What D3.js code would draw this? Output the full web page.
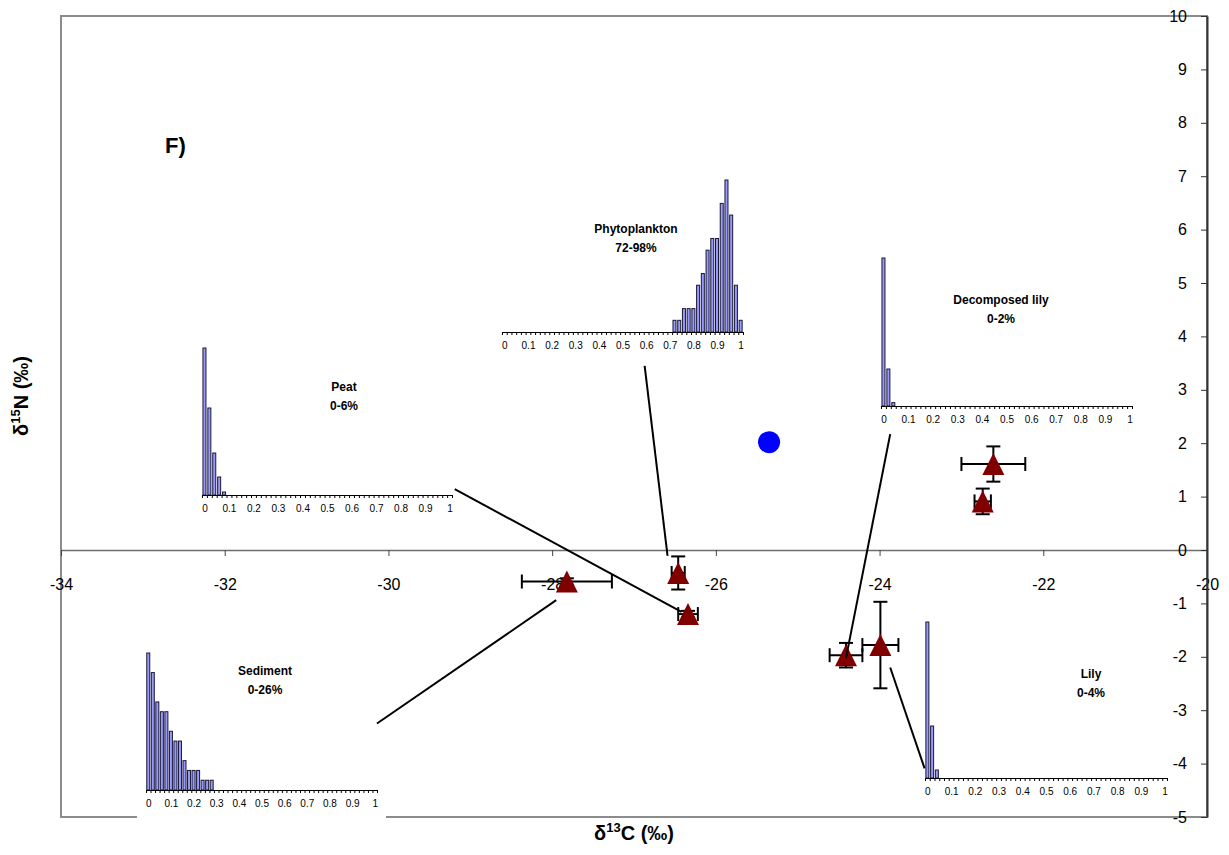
<!DOCTYPE html>
<html>
<head>
<meta charset="utf-8">
<script src="https://cdn.jsdelivr.net/npm/d3@7"></script>
<style>
	body { margin: 0; background: #fff; }
	text { font-family: Arial, "Liberation Sans", sans-serif; }
</style>
</head>
<body>
<div id="chart"></div>
<script>

// main axes
var x_ticks= [-34, -32, -30, -28, -26, -24, -22, -20];
var y_ticks= [-5, -4, -3, -2, -1, 0, 1, 2, 3, 4, 5, 6, 7, 8, 9, 10];

// consumers: mean d13C / d15N and error (per mil)
var sample_c= [-27.82, -26.46, -26.34, -24.41, -23.99, -22.61, -22.74];
var sample_n= [-0.59, -0.43, -1.20, -1.97, -1.78, 1.61, 0.91];
var sample_err_c= [0.55, 0.08, 0.12, 0.20, 0.22, 0.39, 0.10];
var sample_err_n= [0.06, 0.31, 0.06, 0.23, 0.81, 0.33, 0.24];

// mixture point
var mix_c= [-25.35];
var mix_n= [2.02];

// leader lines from the histograms to the samples (per mil units)
var link_c0= [-29.19, -26.87, -30.14, -23.87, -23.87];
var link_n0= [1.14, 3.45, -3.25, 2.17, -2.20];
var link_c1= [-26.42, -26.59, -27.95, -24.41, -23.45];
var link_n1= [-1.16, -0.11, -0.94, -2.02, -4.09];

// source contribution histograms
var bin_labels= ["0", "0.1", "0.2", "0.3", "0.4", "0.5", "0.6", "0.7", "0.8", "0.9", "1"];

var peat_bins= [0, 0.02, 0.04, 0.06, 0.08];
var peat_counts= [49, 29, 14, 6, 1];

var phyto_bins= [0.72, 0.74, 0.76, 0.78, 0.80, 0.82, 0.84, 0.86, 0.88, 0.90, 0.92, 0.94, 0.96, 0.98, 1.00];
var phyto_counts= [1, 1, 2, 2, 2, 4, 5, 7, 8, 8, 11, 13, 10, 4, 1];

var declily_bins= [0, 0.02, 0.04];
var declily_counts= [44, 11, 1];

var sediment_bins= [0, 0.02, 0.04, 0.06, 0.08, 0.10, 0.12, 0.14, 0.16, 0.18, 0.20, 0.22, 0.24, 0.26, 0.28];
var sediment_counts= [14, 12, 9, 8, 8, 6, 5, 5, 3, 2, 2, 2, 1, 1, 1];

var lily_bins= [0, 0.02, 0.04];
var lily_counts= [39, 13, 2];


var width= 1229, height= 855;

var svg= d3.select("#chart")
	.append("svg")
	.attr("width", width)
	.attr("height", height);

var x= d3.scaleLinear().domain([-34, -20]).range([61, 1207]);
var y= d3.scaleLinear().domain([-5, 10]).range([817, 16]);

// plot frame
svg.append("rect")
	.attr("x", x(-34))
	.attr("y", y(10))
	.attr("width", x(-20)- x(-34))
	.attr("height", y(-5)- y(10))
	.attr("fill", "none")
	.attr("stroke", "#8c8c8c")
	.attr("stroke-width", 2);


// insets (layout in pixels)
var insets= [
	{name: "Peat", range: "0-6%", bins: peat_bins, counts: peat_counts, x0: 202, x1: 452, base: 495, top: 348, lx: 344, ly: 391},
	{name: "Phytoplankton", range: "72-98%", bins: phyto_bins, counts: phyto_counts, x0: 502, x1: 743, base: 332, top: 180, lx: 636, ly: 233},
	{name: "Decomposed lily", range: "0-2%", bins: declily_bins, counts: declily_counts, x0: 881, x1: 1132, base: 406, top: 258, lx: 1001, ly: 304},
	{name: "Sediment", range: "0-26%", bins: sediment_bins, counts: sediment_counts, x0: 146, x1: 377, base: 790, top: 653, lx: 265, ly: 675},
	{name: "Lily", range: "0-4%", bins: lily_bins, counts: lily_counts, x0: 925, x1: 1167, base: 778, top: 622, lx: 1091, ly: 678}
];

var bin_edges= d3.range(52).map(function(i) { return -0.01+ i* 0.02; });

function draw_inset(d) {

	var g= svg.append("g");

	g.append("rect")
		.attr("x", d.x0- 9)
		.attr("y", d.top- 12)
		.attr("width", d.x1- d.x0+ 18)
		.attr("height", d.base- d.top+ 41)
		.attr("fill", "#fff");

	var hx= d3.scaleLinear().domain([-0.01, 1.01]).range([d.x0, d.x1]);
	var hy= d3.scaleLinear().domain([0, d3.max(d.counts)]).range([d.base, d.top]);

	g.selectAll(".bar")
		.data(d.counts)
		.enter().append("rect")
			.attr("class", "bar")
			.attr("x", function(c, i) { return hx(d.bins[i])- 1.5; })
			.attr("y", function(c) { return hy(c); })
			.attr("width", 3)
			.attr("height", function(c) { return d.base- hy(c); })
			.attr("fill", "#9999ff")
			.attr("stroke", "#1a1a33")
			.attr("stroke-width", 1);

	var ticks= g.append("g")
		.attr("transform", "translate(0," + d.base + ")")
		.call(d3.axisBottom(hx).tickValues(bin_edges).tickSize(3).tickSizeOuter(0).tickFormat(""));
	ticks.selectAll("line").attr("stroke", "#000");
	ticks.select(".domain").attr("stroke", "#000");

	var labels= g.append("g")
		.attr("transform", "translate(0," + d.base + ")")
		.call(d3.axisBottom(hx).tickValues(bin_labels.map(Number)).tickSize(0).tickPadding(10)
			.tickFormat(function(v, i) { return bin_labels[i]; }));
	labels.select(".domain").remove();
	labels.selectAll("text")
		.attr("font-size", 10)
		.attr("font-family", "Arial, 'Liberation Sans', sans-serif")
		.attr("fill", "#000");

	g.append("text")
		.attr("x", d.lx)
		.attr("y", d.ly)
		.attr("text-anchor", "middle")
		.attr("font-size", 12)
		.attr("font-weight", "bold")
		.text(d.name);

	g.append("text")
		.attr("x", d.lx)
		.attr("y", d.ly+ 19)
		.attr("text-anchor", "middle")
		.attr("font-size", 12)
		.attr("font-weight", "bold")
		.text(d.range);
}

insets.forEach(draw_inset);


// axes
var x_axis= svg.append("g")
	.attr("transform", "translate(0," + y(0) + ")")
	.call(d3.axisBottom(x).tickValues(x_ticks).tickSize(6).tickSizeOuter(0).tickPadding(23)
		.tickFormat(function(v) { return String(v); }));
x_axis.select(".domain").attr("stroke", "#6e6e6e").attr("stroke-width", 1.5);
x_axis.selectAll("line").attr("stroke", "#444");
x_axis.selectAll("text")
	.attr("font-size", 16)
	.attr("font-family", "Arial, 'Liberation Sans', sans-serif")
	.attr("fill", "#000");

var y_axis= svg.append("g")
	.attr("transform", "translate(" + x(-20) + ",0)")
	.call(d3.axisLeft(y).tickValues(y_ticks).tickSize(6).tickSizeOuter(0).tickPadding(14)
		.tickFormat(function(v) { return String(v); }));
y_axis.select(".domain").attr("stroke", "#333").attr("stroke-width", 2);
y_axis.selectAll("line").attr("stroke", "#333");
y_axis.selectAll("text")
	.attr("font-size", 16)
	.attr("font-family", "Arial, 'Liberation Sans', sans-serif")
	.attr("fill", "#000");

// titles
var x_title= svg.append("text")
	.attr("x", 634)
	.attr("y", 840)
	.attr("text-anchor", "middle")
	.attr("font-size", 20)
	.attr("font-weight", "bold");
x_title.append("tspan").text("δ");
x_title.append("tspan").attr("font-size", 13).attr("dy", -8).text("13");
x_title.append("tspan").attr("dy", 8).text("C (‰)");

var y_title= svg.append("text")
	.attr("transform", "translate(28,396) rotate(-90)")
	.attr("text-anchor", "middle")
	.attr("font-size", 20)
	.attr("font-weight", "bold");
y_title.append("tspan").text("δ");
y_title.append("tspan").attr("font-size", 13).attr("dy", -8).text("15");
y_title.append("tspan").attr("dy", 8).text("N (‰)");

svg.append("text")
	.attr("x", 165)
	.attr("y", 153)
	.attr("font-size", 22)
	.attr("font-weight", "bold")
	.text("F)");


// error bars
var cap= 7;
var err= svg.append("g").attr("stroke", "#000").attr("stroke-width", 2);

sample_c.forEach(function(c, i) {
	var px= x(c), py= y(sample_n[i]);
	var xl= x(c- sample_err_c[i]), xr= x(c+ sample_err_c[i]);
	var yt= y(sample_n[i]+ sample_err_n[i]), yb= y(sample_n[i]- sample_err_n[i]);

	err.append("line").attr("x1", xl).attr("x2", xr).attr("y1", py).attr("y2", py);
	err.append("line").attr("x1", xl).attr("x2", xl).attr("y1", py- cap).attr("y2", py+ cap);
	err.append("line").attr("x1", xr).attr("x2", xr).attr("y1", py- cap).attr("y2", py+ cap);
	err.append("line").attr("x1", px).attr("x2", px).attr("y1", yt).attr("y2", yb);
	err.append("line").attr("x1", px- cap).attr("x2", px+ cap).attr("y1", yt).attr("y2", yt);
	err.append("line").attr("x1", px- cap).attr("x2", px+ cap).attr("y1", yb).attr("y2", yb);
});

// triangle markers, centred on their box like the spreadsheet ones
var triangle= {
	draw: function(ctx, size) {
		var h= Math.sqrt(size)/ 2;
		ctx.moveTo(0, -h);
		ctx.lineTo(h, h);
		ctx.lineTo(-h, h);
		ctx.closePath();
	}
};

svg.selectAll(".sample")
	.data(sample_c)
	.enter().append("path")
		.attr("class", "sample")
		.attr("d", d3.symbol().type(triangle).size(22* 22))
		.attr("transform", function(c, i) { return "translate(" + x(c) + "," + y(sample_n[i]) + ")"; })
		.attr("fill", "#800000");

svg.selectAll(".mix")
	.data(mix_c)
	.enter().append("circle")
		.attr("class", "mix")
		.attr("cx", function(c) { return x(c); })
		.attr("cy", function(c, i) { return y(mix_n[i]); })
		.attr("r", 11)
		.attr("fill", "#0000ff");

// leader lines
svg.selectAll(".link")
	.data(link_c0)
	.enter().append("line")
		.attr("class", "link")
		.attr("x1", function(c) { return x(c); })
		.attr("y1", function(c, i) { return y(link_n0[i]); })
		.attr("x2", function(c, i) { return x(link_c1[i]); })
		.attr("y2", function(c, i) { return y(link_n1[i]); })
		.attr("stroke", "#000")
		.attr("stroke-width", 2);

</script>
</body>
</html>
